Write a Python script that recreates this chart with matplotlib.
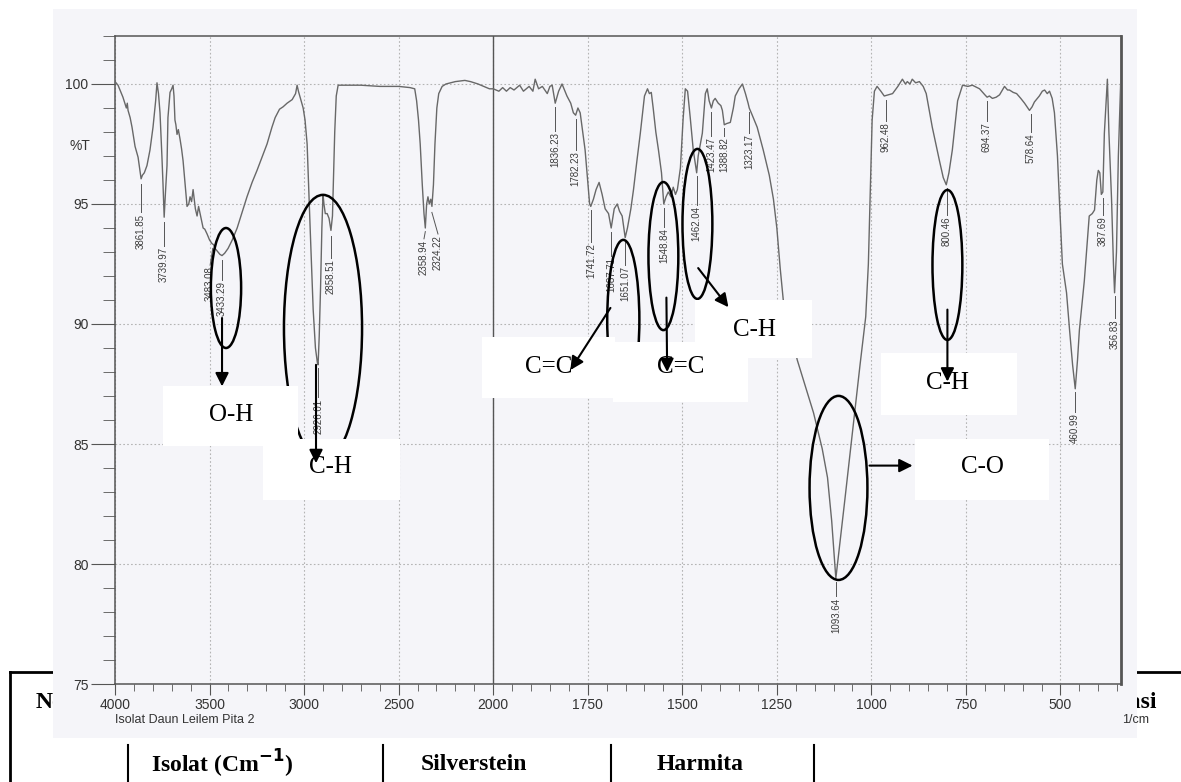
import matplotlib
matplotlib.use("Agg")
import matplotlib.pyplot as plt
import numpy as np
from matplotlib.patches import Ellipse, Rectangle
from matplotlib.lines import Line2D
from matplotlib.ticker import FixedLocator, FixedFormatter
from matplotlib.transforms import blended_transform_factory

# FTIR spectrum: wavenumber (1/cm) and %T
wn = [4000, 3984, 3958, 3940, 3935, 3931, 3920, 3910, 3894, 3878, 3868, 3862, 3855, 3845,
      3831, 3815, 3799, 3785, 3778, 3770, 3762, 3752, 3746, 3740, 3733, 3725, 3720, 3709,
      3700, 3693, 3688, 3683, 3678, 3672, 3665, 3656, 3648, 3640, 3630, 3619, 3610, 3603,
      3595, 3587, 3575, 3566, 3558, 3550, 3542, 3534, 3525, 3513, 3500, 3487, 3478, 3471,
      3455, 3445, 3434, 3420, 3402, 3380, 3354, 3330, 3302, 3275, 3249, 3220, 3196, 3170,
      3153, 3130, 3111, 3090, 3063, 3045, 3037, 3030, 3021, 3005, 2995, 2984, 2975, 2968,
      2960, 2952, 2940, 2930, 2926, 2920, 2913, 2906, 2900, 2895, 2888, 2878, 2868, 2858,
      2850, 2845, 2838, 2830, 2820, 2780, 2700, 2600, 2500, 2440, 2415, 2405, 2395, 2386,
      2375, 2366, 2359, 2352, 2345, 2338, 2330, 2324, 2316, 2308, 2298, 2288, 2270, 2250,
      2200, 2150, 2120, 2080, 2050, 2020, 2000, 1985, 1975, 1965, 1955, 1945, 1930, 1920,
      1905, 1895, 1889, 1880, 1870, 1857, 1850, 1844, 1836, 1827, 1818, 1805, 1795, 1788,
      1782, 1776, 1770, 1757, 1745, 1742, 1735, 1728, 1720, 1712, 1704, 1695, 1688, 1680,
      1672, 1666, 1659, 1651, 1645, 1636, 1629, 1620, 1611, 1600, 1592, 1587, 1582, 1577,
      1570, 1563, 1555, 1549, 1543, 1537, 1530, 1524, 1518, 1513, 1505, 1498, 1492, 1486,
      1479, 1471, 1462, 1458, 1447, 1439, 1434, 1429, 1423, 1418, 1413, 1405, 1398, 1394,
      1389, 1383, 1373, 1365, 1360, 1350, 1341, 1333, 1326, 1323, 1315, 1302, 1286, 1270,
      1259, 1250, 1241, 1233, 1196, 1153, 1130, 1116, 1105, 1094, 1070, 1050, 1030, 1015,
      1008, 1003, 998, 992, 985, 975, 966, 955, 944, 930, 918, 910, 905, 898, 892, 883,
      873, 863, 855, 839, 820, 810, 802, 795, 786, 772, 759, 745, 733, 714, 700, 694,
      688, 680, 670, 661, 648, 640, 635, 625, 616, 605, 595, 582, 575, 569, 556, 548,
      542, 535, 529, 522, 516, 508, 503, 495, 484, 476, 468, 461, 455, 450, 437, 424,
      416, 410, 404, 400, 396, 392, 388, 384, 376, 372, 365, 360, 357, 352, 347, 341]
tr = [100.1, 99.95, 99.45, 99.0, 99.2, 98.9, 98.6, 98.2, 97.4, 96.95, 96.4, 96.05, 96.2, 96.3,
      96.6, 97.25, 98.2, 99.3, 100.05, 99.6, 98.8, 97.0, 95.8, 94.45, 95.5, 96.6, 98.6, 99.65,
      99.8, 99.95, 99.5, 98.5, 98.3, 97.9, 98.1, 97.7, 97.3, 96.8, 95.9, 94.9, 95.0, 95.3,
      95.1, 95.6, 94.8, 94.5, 94.9, 94.6, 94.3, 94.0, 93.95, 93.75, 93.5, 93.35, 93.3, 93.15,
      93.0, 92.9, 92.85, 92.95, 93.15, 93.5, 94.0, 94.6, 95.3, 95.9, 96.4, 97.0, 97.5, 98.2,
      98.6, 98.95, 99.05, 99.2, 99.35, 99.6, 99.95, 99.7, 99.45, 99.0, 98.5, 97.5, 95.5, 94.0,
      92.3, 90.6, 89.0, 88.4, 88.3, 89.5, 91.5, 94.0, 95.4, 95.0, 94.6, 94.6, 94.4, 93.9,
      94.5, 96.0, 98.0, 99.5, 99.95, 99.95, 99.95, 99.9, 99.9, 99.85, 99.8, 99.3, 98.5, 97.5,
      95.8, 94.6, 94.0, 95.0, 95.3, 95.0, 95.2, 94.9, 95.8, 97.5, 99.0, 99.6, 99.9, 100.0,
      100.1, 100.15, 100.1, 100.0, 99.9, 99.8, 99.8, 99.7, 99.85, 99.7, 99.85, 99.75, 99.95, 99.7,
      99.9, 99.7, 100.2, 99.8, 99.9, 99.6, 99.9, 99.95, 99.2, 99.7, 100.0, 99.5, 99.2, 98.8,
      98.7, 99.0, 98.8, 97.25, 95.0, 94.9, 95.2, 95.6, 95.9, 95.4, 94.8, 94.6, 94.0, 94.8,
      95.0, 94.7, 94.5, 93.6, 94.0, 94.8, 95.6, 96.8, 97.95, 99.5, 99.8, 99.6, 99.65, 99.0,
      98.0, 97.25, 96.3, 95.0, 95.3, 95.5, 95.3, 95.7, 95.4, 95.6, 96.5, 98.5, 99.8, 99.7,
      98.6, 97.25, 96.3, 97.0, 97.95, 99.6, 99.8, 99.3, 99.0, 99.3, 99.4, 99.2, 99.1, 98.9,
      98.3, 98.35, 98.4, 99.0, 99.5, 99.8, 100.0, 99.6, 99.2, 99.0, 98.7, 98.2, 97.25, 96.2,
      95.2, 94.0, 92.3, 91.0, 88.5, 86.3, 84.8, 83.6, 81.8, 79.4, 82.7, 85.5, 88.3, 90.3,
      92.5, 95.5, 98.5, 99.7, 99.9, 99.7, 99.5, 99.55, 99.6, 99.9, 100.2, 100.0, 100.1, 100.0, 100.2, 100.05,
      100.1, 99.9, 99.6, 98.2, 96.8, 96.1, 95.8, 96.3, 97.25, 99.3, 99.95, 99.9, 99.95, 99.8, 99.55, 99.45,
      99.5, 99.4, 99.45, 99.55, 99.9, 99.75, 99.75, 99.65, 99.6, 99.4, 99.2, 98.9, 99.05, 99.25, 99.5, 99.7,
      99.75, 99.6, 99.7, 99.4, 98.8, 97.0, 95.2, 92.5, 91.3, 89.75, 88.3, 87.3, 88.5, 89.75, 91.8, 94.5,
      94.6, 94.75, 96.0, 96.4, 96.3, 95.4, 95.5, 97.95, 100.2, 98.0, 95.2, 92.5, 91.3, 93.0, 97.0, 100.0]

# labelled peaks: wavenumber, %T at the peak, where the printed label sits (wn, %T)
peak_wn = [3861.85, 3739.97, 3483.08, 3433.29, 2926.01, 2858.51, 2358.94, 2324.22,
           1836.23, 1782.23, 1741.72, 1687.71, 1651.07, 1548.84, 1462.04, 1423.47,
           1388.82, 1323.17, 1093.64, 962.48, 800.46, 694.37, 578.64, 460.99, 387.69, 356.83]
peak_t = [96.0, 94.4, 93.3, 92.8, 88.3, 93.8, 94.0, 94.8,
          99.2, 98.7, 94.9, 94.0, 93.6, 95.0, 96.3, 99.0,
          98.3, 99.0, 79.4, 99.5, 95.8, 99.45, 98.9, 87.3, 95.4, 91.3]
label_wn = [3861.85, 3739.97, 3497.0, 3433.29, 2926.01, 2858.51, 2366.0, 2292.0,
            1836.23, 1782.23, 1741.72, 1687.71, 1651.07, 1548.84, 1462.04, 1423.47,
            1388.82, 1323.17, 1093.64, 962.48, 800.46, 694.37, 578.64, 460.99, 387.69, 356.83]
label_t = [94.6, 93.2, 92.4, 91.8, 86.9, 92.7, 93.5, 93.7,
           98.0, 97.2, 93.35, 92.8, 92.4, 94.0, 94.9, 97.8,
           97.8, 97.9, 78.6, 98.4, 94.5, 98.4, 97.95, 86.3, 94.5, 90.2]

# functional group call-outs: name, text pos (wn, %T)
group_name = ["O-H", "C-H", "C=C", "C=C", "C-H", "C-H", "C-O"]
group_txt = [(3386, 86.2), (2862, 84.04), (1854, 88.2), (1505, 88.2), (1310, 89.75), (799, 87.55), (706, 84.04)]
group_box = [(3746, 3032, 84.9, 87.4), (3217, 2492, 82.67, 85.2), (2058, 1677, 86.92, 89.46),
             (1683, 1325, 86.75, 89.25), (1466, 1156, 88.58, 91.0), (974, 616, 86.2, 88.8),
             (884, 530, 82.67, 85.2)]
group_ell = [(3413, 91.5, 160, 5.0), (2900, 89.83, 413, 11.1), (1656, 90.17, 85, 6.67),
             (1550, 92.83, 79, 6.17), (1460, 94.17, 79, 6.25), (799, 92.46, 79, 6.25),
             (1087, 83.17, 153, 7.67)]
group_arrow = [((3434, 90.25), (3434, 87.4)), ((2937, 88.3), (2937, 84.2)),
               ((1690, 90.67), (1796, 88.08)), ((1542, 91.1), (1540, 88.0)),
               ((1458, 92.33), (1378, 90.7)), ((799, 90.6), (799, 87.6)),
               ((1005, 84.1), (891, 84.1))]

x_major = [4000, 3500, 3000, 2500, 2000, 1750, 1500, 1250, 1000, 750, 500]
x_minor = list(range(3900, 2000, -100)) + list(range(1950, 340, -50))
y_major = [75, 80, 85, 90, 95, 100]
y_minor = list(range(75, 103))


def fwd(w):
    w = np.asarray(w, dtype=float)
    return np.where(w >= 2000, w, 2 * w - 2000)


def inv(p):
    p = np.asarray(p, dtype=float)
    return np.where(p >= 2000, p, (p + 2000) / 2)


W, H = 1181, 782
fig = plt.figure(figsize=(W / 100, H / 100), dpi=100)
fig.patch.set_facecolor("white")

# document table partly hidden behind the pasted scan
serif = "Liberation Serif"
lk = dict(color="black", lw=2, transform=fig.transFigure, zorder=-3)
fig.add_artist(Line2D([10 / W, 1], [1 - 672 / H, 1 - 672 / H], **lk))
fig.add_artist(Line2D([10 / W, 10 / W], [1 - 672 / H, 0], **lk))
for bx in [128, 383, 611, 814]:
    fig.add_artist(Line2D([bx / W, bx / W], [1 - 745 / H, 0], color="black", lw=1.5,
                          transform=fig.transFigure, zorder=-3))
fig.text(36 / W, 1 - 702 / H, "No", fontfamily=serif, fontweight="bold", fontsize=17,
         ha="left", va="center", zorder=-3)
fig.text(1157 / W, 1 - 702 / H, "Isolasi", fontfamily=serif, fontweight="bold", fontsize=17,
         ha="right", va="center", zorder=-3)
for cx, s in [(222, r"Isolat (Cm$^{\mathbf{-1}}$)"), (474, "Silverstein"), (700, "Harmita")]:
    fig.text(cx / W, 1 - 764 / H, s, fontfamily=serif, fontweight="bold", fontsize=17,
             ha="center", va="center", zorder=-3)

# scanned sheet
fig.add_artist(Rectangle((53 / W, 1 - 738 / H), (1137 - 53) / W, (738 - 9) / H,
                         transform=fig.transFigure, facecolor="#f5f5f9", edgecolor="none",
                         zorder=-1))

ax = fig.add_axes([115 / W, 1 - 684 / H, (1121 - 115) / W, (684 - 36) / H])
ax.set_facecolor("none")
ax.set_xscale("function", functions=(fwd, inv))
ax.set_xlim(4000, 340)
ax.set_ylim(75, 102)

ax.plot(wn, tr, color="#686868", lw=1.0, zorder=3)

ax.xaxis.set_major_locator(FixedLocator(x_major))
ax.xaxis.set_major_formatter(FixedFormatter([str(v) for v in x_major]))
ax.xaxis.set_minor_locator(FixedLocator(x_minor))
ax.yaxis.set_major_locator(FixedLocator(y_major))
ax.yaxis.set_minor_locator(FixedLocator(y_minor))
ax.tick_params(axis="x", which="major", direction="out", length=8, color="#555555",
               labelsize=10, labelcolor="#333333", pad=2)
ax.tick_params(axis="x", which="minor", direction="out", length=5, color="#555555")
ax.tick_params(axis="y", which="major", direction="out", length=17, color="#555555",
               labelsize=10, labelcolor="#333333", pad=2)
ax.tick_params(axis="y", which="minor", direction="out", length=9, color="#555555")
for lab in ax.get_xticklabels() + ax.get_yticklabels():
    lab.set_fontfamily("Liberation Sans")
ax.grid(True, which="major", color="#b4b4b4", ls=(0, (1.5, 2)), lw=0.8, zorder=1)
ax.axvline(2000, color="#555555", lw=1.0, zorder=2)
for sp in ax.spines.values():
    sp.set_color("#555555")
    sp.set_linewidth(1.1)
ax.spines["right"].set_linewidth(2.0)

bt = blended_transform_factory(ax.transAxes, ax.transData)
ax.text(-0.035, 97.4, "%T", transform=bt, fontsize=10, color="#333333",
        fontfamily="Liberation Sans", ha="center", va="center")
ax.text(0.0, -0.055, "Isolat Daun Leilem Pita 2", transform=ax.transAxes, fontsize=9,
        color="#333333", fontfamily="Liberation Sans", ha="left", va="center")
ax.text(1.028, -0.055, "1/cm", transform=ax.transAxes, fontsize=9, color="#333333",
        fontfamily="Liberation Sans", ha="right", va="center")

# peak markers
for w, tp, lw_, tl in zip(peak_wn, peak_t, label_wn, label_t):
    ax.plot([w, lw_], [tp - 0.15, tl + 0.05], color="#555555", lw=0.7, zorder=3)
    ax.text(lw_, tl, f"{w:.2f}", rotation=90, ha="center", va="top", fontsize=7,
            color="#3c3c3c", fontfamily="Liberation Sans", zorder=3)

# hand-drawn call-outs
for (cw, ct, ew, eh) in group_ell:
    ax.add_patch(Ellipse((cw, ct), ew, eh, fill=False, edgecolor="black", lw=1.8, zorder=4))
for (w0, w1, t0, t1) in group_box:
    ax.add_patch(Rectangle((w0, t0), w1 - w0, t1 - t0, facecolor="white", edgecolor="none",
                           zorder=5))
for name, (tw, tt) in zip(group_name, group_txt):
    ax.text(tw, tt, name, fontfamily=serif, fontsize=18, ha="center", va="center",
            color="black", zorder=6)
for (a, b) in group_arrow:
    ax.annotate("", xy=b, xytext=a, zorder=7,
                arrowprops=dict(arrowstyle="-|>", color="black", lw=1.5, mutation_scale=20,
                                shrinkA=0, shrinkB=0))

fig.savefig("out.png", dpi=100)
